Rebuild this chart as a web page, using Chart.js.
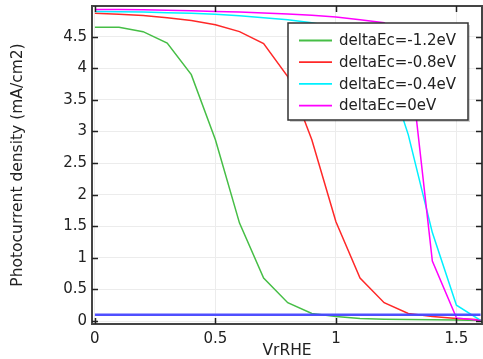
<!DOCTYPE html>
<html><head><meta charset="utf-8">
<script src="https://cdn.jsdelivr.net/npm/chart.js@4/dist/chart.umd.min.js"></script>
<style>html,body{margin:0;padding:0;background:#fff}#wrap{width:483px;height:359px}</style>
</head><body><div id="wrap"><canvas id="c" width="483" height="359"></canvas></div>
<script>
// ---- data ----
const xValues = [0, 0.1, 0.2, 0.3, 0.4, 0.5, 0.6, 0.7, 0.8, 0.9, 1.0, 1.1, 1.2, 1.3, 1.4, 1.5, 1.6];
const seriesNames = ['deltaEc=-1.2eV', 'deltaEc=-0.8eV', 'deltaEc=-0.4eV', 'deltaEc=0eV'];
const dEcMinus12 = [4.65, 4.65, 4.58, 4.40, 3.90, 2.87, 1.55, 0.68, 0.29, 0.12, 0.07, 0.04, 0.03, 0.025, 0.02, 0.015, 0.01];
const dEcMinus08 = [4.87, 4.855, 4.835, 4.80, 4.755, 4.69, 4.58, 4.39, 3.87, 2.87, 1.57, 0.68, 0.29, 0.12, 0.07, 0.04, 0.02];
const dEcMinus04 = [4.90, 4.895, 4.89, 4.88, 4.87, 4.855, 4.83, 4.80, 4.77, 4.72, 4.65, 4.50, 4.12, 2.95, 1.40, 0.25, 0.01];
const dEc0 = [4.93, 4.93, 4.925, 4.92, 4.91, 4.90, 4.89, 4.875, 4.86, 4.84, 4.81, 4.77, 4.72, 4.35, 0.95, 0.05, 0.01];
const baselineX = [0, 1.6];
const baselineY = [0.1, 0.1];
const xTicks = [0, 0.5, 1, 1.5];
const yTicks = [0, 0.5, 1, 1.5, 2, 2.5, 3, 3.5, 4, 4.5];

const FONT = 'DejaVu Sans';
const colors = ['rgb(70,190,70)', 'rgb(255,40,40)', 'rgb(0,240,255)', 'rgb(255,0,255)'];
const seriesValues = [dEcMinus12, dEcMinus08, dEcMinus04, dEc0];

const datasets = seriesValues.map((arr, i) => ({
  label: seriesNames[i],
  data: xValues.map((x, j) => ({x: x, y: arr[j]})),
  borderColor: colors[i],
  borderWidth: 1.5,
  pointRadius: 0,
  tension: 0,
  fill: false,
  order: 5 - i
}));
datasets.push({
  label: 'baseline',
  data: baselineX.map((x, j) => ({x: x, y: baselineY[j]})),
  borderColor: 'rgba(70,70,255,0.95)',
  borderWidth: 2.5,
  pointRadius: 0,
  fill: false,
  order: 0
});

const framePlugin = {
  id: 'frame',
  afterDraw(chart) {
    const ctx = chart.ctx, a = chart.chartArea;
    const xs = chart.scales.x, ys = chart.scales.y;
    ctx.save();
    ctx.strokeStyle = '#444';
    ctx.lineWidth = 2;
    ctx.strokeRect(a.left, a.top, a.right - a.left, a.bottom - a.top);
    ctx.strokeStyle = '#222';
    ctx.lineWidth = 1.5;
    ctx.beginPath();
    yTicks.forEach(v => {
      const p = Math.round(ys.getPixelForValue(v)) + 0.5;
      ctx.moveTo(a.left, p); ctx.lineTo(a.left + 6, p);
      ctx.moveTo(a.right, p); ctx.lineTo(a.right - 6, p);
    });
    xTicks.forEach(v => {
      const p = Math.round(xs.getPixelForValue(v)) + 0.5;
      ctx.moveTo(p, a.bottom); ctx.lineTo(p, a.bottom - 6);
      ctx.moveTo(p, a.top); ctx.lineTo(p, a.top + 6);
    });
    ctx.stroke();
    // legend
    const L = a.left + 196, T = a.top + 17, W = 180, H = 97;
    ctx.fillStyle = 'rgba(0,0,0,0.18)';
    ctx.fillRect(L + 2, T + 2, W, H);
    ctx.fillStyle = '#fff';
    ctx.fillRect(L, T, W, H);
    ctx.strokeStyle = '#333';
    ctx.lineWidth = 1.5;
    ctx.strokeRect(L, T, W, H);
    ctx.font = '15px "' + FONT + '"';
    ctx.textBaseline = 'middle';
    ctx.textAlign = 'left';
    seriesNames.forEach((name, i) => {
      const y = T + 17.5 + i * 21.7;
      ctx.strokeStyle = colors[i];
      ctx.lineWidth = 1.8;
      ctx.beginPath();
      ctx.moveTo(L + 11, y); ctx.lineTo(L + 44, y);
      ctx.stroke();
      ctx.fillStyle = '#222';
      ctx.fillText(name, L + 51, y + 1);
    });
    ctx.restore();
  }
};

new Chart(document.getElementById('c'), {
  type: 'line',
  data: { datasets: datasets },
  options: {
    responsive: false,
    animation: false,
    devicePixelRatio: 1,
    layout: { padding: { left: 0, right: 1, top: 6, bottom: 0 } },
    plugins: { legend: { display: false }, tooltip: { enabled: false } },
    scales: {
      x: {
        type: 'linear',
        min: -0.012, max: 1.606,
        afterBuildTicks: s => { s.ticks = xTicks.map(v => ({value: v})); },
        afterFit: s => { s.height = 35; s.paddingLeft = 0; s.paddingRight = 0; },
        grid: { color: '#ececec', lineWidth: 1, drawTicks: false },
        border: { display: false },
        ticks: { font: { family: FONT, size: 15 }, color: '#222', padding: 6, maxRotation: 0,
                 callback: v => String(v) },
        title: { display: true, text: 'VrRHE', font: { family: FONT, size: 15.5, lineHeight: 1 },
                 color: '#222', padding: { top: 0, bottom: 0 } }
      },
      y: {
        type: 'linear',
        min: -0.047, max: 4.986,
        afterBuildTicks: s => { s.ticks = yTicks.map(v => ({value: v})); },
        afterFit: s => { s.width = 92; s.paddingTop = 0; s.paddingBottom = 0; },
        grid: { color: '#ececec', lineWidth: 1, drawTicks: false },
        border: { display: false },
        ticks: { font: { family: FONT, size: 15 }, color: '#222', padding: 5,
                 callback: v => String(v) },
        title: { display: true, text: 'Photocurrent density (mA/cm2)',
                 font: { family: FONT, size: 15.5, lineHeight: 1 }, color: '#222',
                 padding: { top: 10, bottom: 0 } }
      }
    }
  },
  plugins: [framePlugin]
});
</script>
</body></html>
